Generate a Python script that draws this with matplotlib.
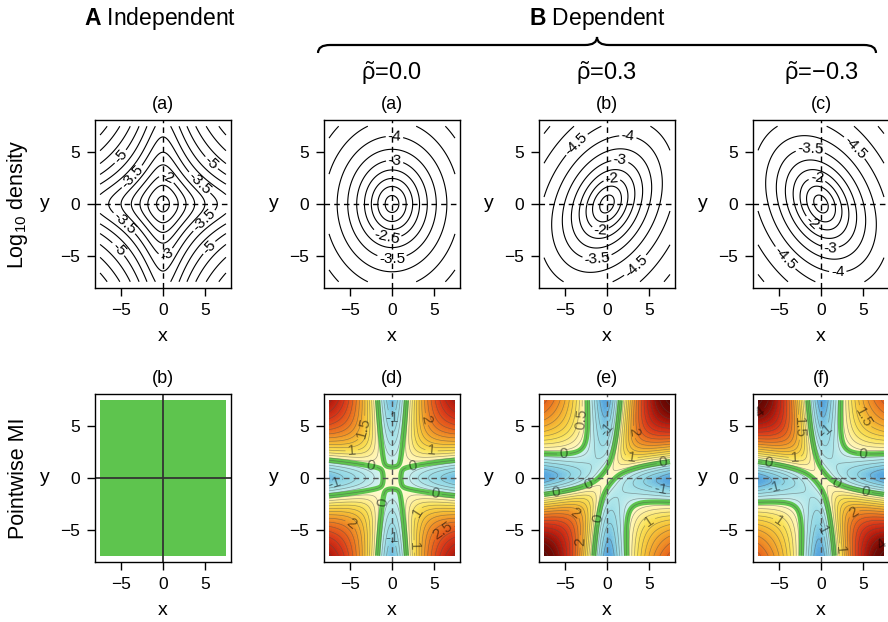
import numpy as np
import matplotlib
matplotlib.use('Agg')
import matplotlib.pyplot as plt
from matplotlib.colors import LinearSegmentedColormap, Normalize
from matplotlib.path import Path
from matplotlib.patches import PathPatch
from math import lgamma, log, pi

plt.rcParams['font.family'] = ['Liberation Sans', 'DejaVu Sans']
plt.rcParams['mathtext.fontset'] = 'custom'
plt.rcParams['mathtext.rm'] = 'Liberation Sans'
plt.rcParams['mathtext.it'] = 'Liberation Sans'
plt.rcParams['mathtext.bf'] = 'Liberation Sans:bold'

# ---- model / data -------------------------------------------------------
NU = 4.0            # Student-t degrees of freedom (marginals and joint)
SCALE = 1.0
RHOS = [0.0, 0.3, -0.3]
RHO_TEXT = ['0.0', '0.3', '\u22120.3']
GRID_LIM = 7.5
TICKS = [-5, 0, 5]

DENS_LEVELS = [-8.0, -7.5, -7.0, -6.5, -6.0, -5.5, -5.0, -4.5, -4.0,
               -3.5, -3.0, -2.5, -2.0, -1.5, -1.0]
PMI_LINE_LEVELS = [-1.5, -1.25, -1.0, -0.75, -0.5, -0.25, 0.0, 0.25, 0.5,
                   0.75, 1.0, 1.25, 1.5, 1.75, 2.0, 2.25, 2.5, 2.75, 3.0,
                   3.25, 3.5, 3.75, 4.0, 4.25, 4.5]

# labelled density levels per top panel (A, B-a, B-b, B-c)
TOP_LABEL_LEVELS = [[-2.0, -3.0, -3.5, -5.0],
                    [-2.5, -3.0, -3.5, -4.0],
                    [-2.0, -2.5, -3.0, -3.5, -4.0, -4.5],
                    [-2.0, -2.5, -3.0, -3.5, -4.0, -4.5]]
# labelled MI levels per bottom panel (d, e, f)
BOT_LABEL_LEVELS = [[-1.0, 0.0, 1.0, 1.5, 2.0, 2.5, 3.0],
                    [-1.0, 0.0, 0.5, 1.0, 2.0, 3.0],
                    [-1.0, 0.0, 1.0, 1.5, 2.0, 4.0]]

# where the labels sit (approximate, picked up from the figure)
TOP_LABEL_POS = [
    [(-6.1, 5.3), (6.4, 4.5), (-4.3, 3.1), (4.4, 2.1), (0.2, 2.2),
     (-5.1, -2.3), (5.0, -1.7), (0.0, -4.4), (-6.3, -5.1), (6.0, -4.6)],
    [(0.3, 6.6), (0.3, 4.0), (-0.6, -3.1), (0.0, -5.0)],
    [(-5.0, 6.9), (2.5, 6.6), (1.5, 3.8), (0.6, 2.2), (-0.8, -2.6),
     (-1.2, -5.0), (4.5, -6.9)],
    [(5.0, 6.2), (-1.3, 4.9), (-0.4, 2.8), (-1.3, -2.0), (1.1, -4.1),
     (-5.5, -6.1), (2.0, -6.6)],
]
BOT_LABEL_POS = [
    [(-3.4, 4.8), (-4.8, 2.7), (0.0, 5.4), (4.3, 5.7), (4.7, 2.5),
     (-2.6, 0.9), (2.5, 0.9), (-6.8, -0.7), (5.3, -0.8), (-0.2, -2.4),
     (2.9, -3.2), (-5.0, -4.5), (-0.2, -5.0), (6.1, -5.2), (2.5, -6.6)],
    [(-3.2, 5.7), (0.4, 4.5), (3.9, 4.5), (-5.2, 2.2), (2.9, 1.9),
     (6.7, 1.25), (-6.2, -1.0), (-2.2, -0.5), (6.3, -1.5), (-3.8, -3.4),
     (-0.4, -4.0), (5.5, -4.7), (-3.6, -6.1)],
    [(-6.3, 5.1), (-2.7, 4.9), (0.7, 4.5), (4.6, 5.7), (-6.3, 1.25),
     (-3.1, 1.9), (5.0, 2.2), (-5.5, -1.5), (1.7, -0.7), (5.4, -1.0),
     (-4.9, -4.0), (3.7, -3.1), (0.5, -4.7), (6.2, -5.2), (2.3, -6.9)],
]

PMI_ANCHORS = [-2.0, -1.5, -1.0, -0.5, -0.01, 0.0, 0.5, 1.0, 1.5, 2.0,
               2.5, 3.0, 3.5, 4.0, 5.0]
PMI_COLORS = ['#2a62c0', '#4f9edc', '#8fd6e4', '#b0e6ea', '#d6f2ee',
              '#fffbd6', '#fff2a6', '#fae35a', '#f6c43a', '#f19a2a',
              '#e9691e', '#d9391a', '#b81c0e', '#7a0a04', '#2a0000']


def log_t1(x):
    z = x / SCALE
    return (lgamma((NU + 1) / 2) - lgamma(NU / 2) - 0.5 * log(NU * pi)
            - log(SCALE) - (NU + 1) / 2 * np.log1p(z ** 2 / NU))


def log_t2(x, y, rho):
    q = (x ** 2 - 2 * rho * x * y + y ** 2) / (SCALE ** 2 * (1 - rho ** 2))
    return (lgamma((NU + 2) / 2) - lgamma(NU / 2) - log(NU * pi)
            - 2 * log(SCALE) - 0.5 * log(1 - rho ** 2)
            - (NU + 2) / 2 * np.log1p(q / NU))


g = np.linspace(-GRID_LIM, GRID_LIM, 301)
X, Y = np.meshgrid(g, g)
indep = log_t1(X) + log_t1(Y)

top_fields = [indep / np.log(10)] + [log_t2(X, Y, r) / np.log(10) for r in RHOS]
bot_fields = [indep - indep] + [log_t2(X, Y, r) - indep for r in RHOS]

# ---- figure -------------------------------------------------------------
W, H = 888, 622
fig = plt.figure(figsize=(W / 100, H / 100), dpi=100)

lefts = [95, 324, 539, 753]
tops = [120, 394]
aw, ah = 136, 168
LIM = 8.1


def make_ax(left, top):
    ax = fig.add_axes([left / W, 1 - (top + ah) / H, aw / W, ah / H])
    ax.set_xlim(-LIM, LIM)
    ax.set_ylim(-LIM, LIM)
    ax.set_xticks(TICKS)
    ax.set_yticks(TICKS)
    ax.tick_params(direction='out', length=6, width=1, pad=5, labelsize=12.5)
    ax.set_xlabel('x', fontsize=14, va='center')
    ax.xaxis.set_label_coords(0.5, -0.29)
    ax.set_ylabel('y', fontsize=14, rotation=0, ha='center', va='center')
    ax.yaxis.set_label_coords(-0.37, 0.5)
    for s in ax.spines.values():
        s.set_linewidth(1.0)
    return ax


def split(levels, labelled):
    return ([lv for lv in levels if lv not in labelled],
            [lv for lv in levels if lv in labelled])


top_titles = ['(a)', '(a)', '(b)', '(c)']
bot_titles = ['(b)', '(d)', '(e)', '(f)']

pmi_cmap = LinearSegmentedColormap.from_list(
    'pmi', [((a - PMI_ANCHORS[0]) / (PMI_ANCHORS[-1] - PMI_ANCHORS[0]), c)
            for a, c in zip(PMI_ANCHORS, PMI_COLORS)])
pmi_norm = Normalize(PMI_ANCHORS[0], PMI_ANCHORS[-1])
fill_levels = np.linspace(-2.0, 5.0, 141)

for i in range(4):
    # top row: log10 density
    ax = make_ax(lefts[i], tops[0])
    plain, lab = split(DENS_LEVELS, TOP_LABEL_LEVELS[i])
    ax.contour(X, Y, top_fields[i], levels=plain, colors='black',
               linewidths=0.8, linestyles='solid')
    cs = ax.contour(X, Y, top_fields[i], levels=lab, colors='black',
                    linewidths=0.8, linestyles='solid')
    ax.clabel(cs, manual=TOP_LABEL_POS[i], inline=True, fmt='%g',
              fontsize=11, inline_spacing=2)
    ax.axhline(0, color='black', lw=1, ls=(0, (4, 3)))
    ax.axvline(0, color='black', lw=1, ls=(0, (4, 3)))
    ax.set_title(top_titles[i], fontsize=13, pad=8)

    # bottom row: pointwise MI
    ax = make_ax(lefts[i], tops[1])
    f = bot_fields[i]
    if i == 0:
        ax.contourf(X, Y, f, levels=[-0.5, 0.5], colors=['#5ec44e'])
        ax.axhline(0, color='#333333', lw=1.3)
        ax.axvline(0, color='#333333', lw=1.3)
    else:
        ax.contourf(X, Y, f, levels=fill_levels, cmap=pmi_cmap,
                    norm=pmi_norm, extend='both')
        ax.contour(X, Y, f, levels=[0.0], colors='#5ec44e', linewidths=3.8)
        plain, lab = split(PMI_LINE_LEVELS, BOT_LABEL_LEVELS[i - 1])
        ax.contour(X, Y, f, levels=plain, colors='#4a4a4a',
                   linewidths=0.5, alpha=0.5, linestyles='solid')
        cl = ax.contour(X, Y, f, levels=lab, colors='#4a4a4a',
                        linewidths=0.5, alpha=0.5, linestyles='solid')
        ax.clabel(cl, manual=BOT_LABEL_POS[i - 1], inline=True, fmt='%g',
                  fontsize=11, colors='black', inline_spacing=2)
        ax.axhline(0, color='#555555', lw=1, ls=(0, (4, 3)))
        ax.axvline(0, color='#555555', lw=1, ls=(0, (4, 3)))
    ax.set_title(bot_titles[i], fontsize=13, pad=8)


def fx(x):
    return x / W


def fy(y):
    return 1 - y / H


# headings
fig.text(fx(160), fy(18), r'$\mathbf{A}$ Independent', fontsize=16.5,
         ha='center', va='center')
fig.text(fx(597), fy(18), r'$\mathbf{B}$ Dependent', fontsize=16.5,
         ha='center', va='center')
for k, cx in enumerate([392, 607, 821]):
    fig.text(fx(cx), fy(73), r'$\tilde{\rho}$=' + RHO_TEXT[k], fontsize=17,
             ha='center', va='center')
fig.text(fx(18), fy(204), r'Log$_{10}$ density', fontsize=15.5, rotation=90,
         ha='center', va='center')
fig.text(fx(18), fy(478), 'Pointwise MI', fontsize=15.5, rotation=90,
         ha='center', va='center')

# curly brace over the dependent columns
x0, x1, xm, yb, d, r = 318, 876, 597, 45, 8, 12
verts = [(x0, yb + d), (x0, yb), (x0 + r, yb), (xm - r, yb), (xm, yb),
         (xm, yb - d), (xm, yb), (xm + r, yb), (x1 - r, yb), (x1, yb),
         (x1, yb + d)]
codes = [Path.MOVETO, Path.CURVE3, Path.CURVE3, Path.LINETO, Path.CURVE3,
         Path.CURVE3, Path.CURVE3, Path.CURVE3, Path.LINETO, Path.CURVE3,
         Path.CURVE3]
brace = Path([(fx(a), fy(b)) for a, b in verts], codes)
fig.patches.append(PathPatch(brace, transform=fig.transFigure, fill=False,
                             lw=1.6, color='black'))

fig.savefig('out.png', dpi=100)
